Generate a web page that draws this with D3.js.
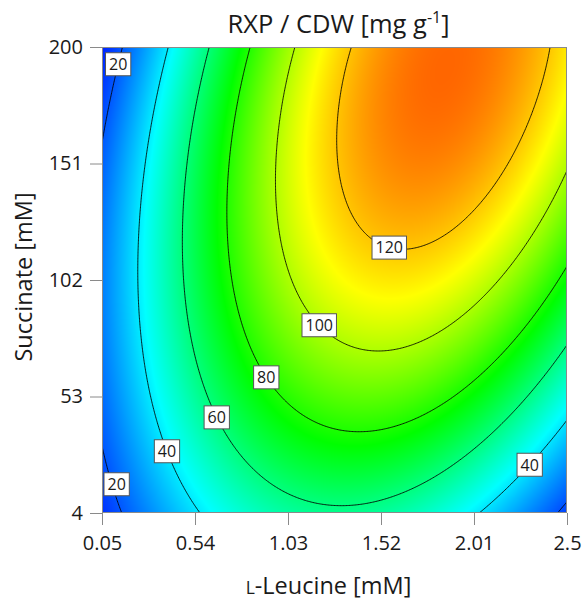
<!DOCTYPE html>
<html>
<head>
<meta charset="utf-8">
<script src="https://cdn.jsdelivr.net/npm/d3@7"></script>
<style>
  html, body { margin: 0; padding: 0; background: #fff; }
  svg { display: block; font-family: "Open Sans", "Noto Sans", sans-serif; }
</style>
</head>
<body>
<svg id="chart" width="582" height="600"></svg>
<script>
// Axis ticks (factor ranges follow from the first and last tick)
const leucineTicks = [0.05, 0.54, 1.03, 1.52, 2.01, 2.5];
const succinateTicks = [4, 53, 102, 151, 200];

// Quadratic response-surface model on the square-root scale,
// coded factors A = L-Leucine, B = Succinate (both -1 .. +1)
const modelTerms = ["Intercept", "A", "B", "AB", "A²", "B²"];
const modelCoefficients = [10.4675, 1.840, 1.564, 1.711, -3.580, -1.303];

// Contour levels of RXP / CDW
const contourLevels = [20, 40, 60, 80, 100, 120];

// Contour labels: level and the spot (L-Leucine mM, Succinate mM) where it sits
const labelLevels = [20, 20, 40, 60, 80, 100, 120, 40];
const labelLeucine = [0.12, 0.124, 0.392, 0.646, 0.901, 1.186, 1.558, 2.301];
const labelSuccinate = [192.9, 16.6, 30.0, 44.0, 60.5, 82.2, 114.1, 24.3];

// Colour ramp of the response
const colorValues = [12, 43, 76, 111, 136];
const colorStops = ["rgb(0,25,255)", "rgb(0,255,255)", "rgb(0,255,0)", "rgb(255,255,0)", "rgb(255,95,0)"];

// ---------------------------------------------------------------------------
const W = 582, H = 600;
const plot = { left: 102, right: 567, top: 47, bottom: 513 };
const plotW = plot.right - plot.left, plotH = plot.bottom - plot.top;

const [lMin, lMax] = d3.extent(leucineTicks);
const [sMin, sMax] = d3.extent(succinateTicks);

const x = d3.scaleLinear().domain([lMin, lMax]).range([plot.left, plot.right]);
const y = d3.scaleLinear().domain([sMin, sMax]).range([plot.bottom, plot.top]);
const color = d3.scaleLinear().domain(colorValues).range(colorStops).clamp(true);

function response(L, S) {
  const A = (L - (lMin + lMax) / 2) / ((lMax - lMin) / 2);
  const B = (S - (sMin + sMax) / 2) / ((sMax - sMin) / 2);
  const basis = [1, A, B, A * B, A * A, B * B];
  const root = d3.sum(basis, (t, i) => t * modelCoefficients[i]);
  return root * root;
}

const svg = d3.select("#chart");
const textColor = "#1a1a1a";
const axisColor = "#8a8a8a";
const fontStack = "\"Open Sans\", \"Noto Sans\", sans-serif";

// ---- colour field -------------------------------------------------------
const canvas = document.createElement("canvas");
canvas.width = plotW; canvas.height = plotH;
const ctx = canvas.getContext("2d");
const img = ctx.createImageData(plotW, plotH);
for (let j = 0; j < plotH; j++) {
  const S = y.invert(plot.top + j + 0.5);
  for (let i = 0; i < plotW; i++) {
    const L = x.invert(plot.left + i + 0.5);
    const c = d3.rgb(color(response(L, S)));
    const k = (j * plotW + i) * 4;
    img.data[k] = c.r; img.data[k + 1] = c.g; img.data[k + 2] = c.b; img.data[k + 3] = 255;
  }
}
ctx.putImageData(img, 0, 0);

svg.append("defs").append("clipPath").attr("id", "plot-clip")
  .append("rect").attr("x", plot.left).attr("y", plot.top)
  .attr("width", plotW).attr("height", plotH);

svg.append("image")
  .attr("x", plot.left).attr("y", plot.top)
  .attr("width", plotW).attr("height", plotH)
  .attr("preserveAspectRatio", "none")
  .attr("href", canvas.toDataURL());

// ---- contour lines ------------------------------------------------------
const step = 1.5, pad = 4;
const nx = Math.ceil(plotW / step) + 2 * pad + 1;
const ny = Math.ceil(plotH / step) + 2 * pad + 1;
const gx0 = plot.left - pad * step, gy0 = plot.top - pad * step;
const grid = new Float64Array(nx * ny);
for (let j = 0; j < ny; j++) {
  const S = y.invert(gy0 + j * step);
  for (let i = 0; i < nx; i++) grid[j * nx + i] = response(x.invert(gx0 + i * step), S);
}
const contours = d3.contours().size([nx, ny]).thresholds(contourLevels)(grid);
const toPixel = d3.geoTransform({
  point(cx, cy) { this.stream.point(gx0 + cx * step, gy0 + cy * step); }
});
const path = d3.geoPath(toPixel);

svg.append("g").attr("clip-path", "url(#plot-clip)")
  .selectAll("path").data(contours).join("path")
  .attr("d", path)
  .attr("fill", "none")
  .attr("stroke", "#000")
  .attr("stroke-opacity", 0.85)
  .attr("stroke-width", 1);

// ---- contour labels -----------------------------------------------------
const labelG = svg.append("g");
labelLevels.forEach((level, k) => {
  const hx = x(labelLeucine[k]), hy = y(labelSuccinate[k]);
  const geom = contours.find(c => c.value === level);
  let best = [hx, hy], bestD = Infinity;
  geom.coordinates.forEach(poly => poly.forEach(ring => ring.forEach(([cx, cy]) => {
    const px = gx0 + cx * step, py = gy0 + cy * step;
    if (px < plot.left || px > plot.right || py < plot.top || py > plot.bottom) return;
    const d = (px - hx) ** 2 + (py - hy) ** 2;
    if (d < bestD) { bestD = d; best = [px, py]; }
  })));
  const g = labelG.append("g");
  const t = g.append("text")
    .attr("text-anchor", "middle").attr("dy", "0.36em")
    .attr("font-size", 16).attr("fill", textColor)
    .text(level);
  const tw = t.node().getComputedTextLength();
  const bw = tw + 7, bh = 23;
  // keep the whole box inside the plot frame
  const cx = Math.max(plot.left + 2 + bw / 2, Math.min(plot.right - 2 - bw / 2, best[0]));
  const cy = Math.max(plot.top + 4 + bh / 2, Math.min(plot.bottom - 4 - bh / 2, best[1]));
  g.attr("transform", `translate(${cx},${cy})`);
  g.insert("rect", "text")
    .attr("x", -bw / 2).attr("y", -bh / 2)
    .attr("width", bw).attr("height", bh)
    .attr("fill", "#fff").attr("stroke", "#555").attr("stroke-width", 1);
});

// ---- frame and axes -----------------------------------------------------
svg.append("rect")
  .attr("x", plot.left + 0.5).attr("y", plot.top + 0.5)
  .attr("width", plotW - 1).attr("height", plotH - 1)
  .attr("fill", "none").attr("stroke", axisColor).attr("stroke-width", 1);

const xAxis = svg.append("g").attr("transform", `translate(0,${plot.bottom})`)
  .call(d3.axisBottom(x).tickValues(leucineTicks).tickSize(12).tickPadding(11)
    .tickFormat(d => String(d)));
const yAxis = svg.append("g").attr("transform", `translate(${plot.left},0)`)
  .call(d3.axisLeft(y).tickValues(succinateTicks).tickSize(12).tickPadding(7)
    .tickFormat(d => String(d)));
[xAxis, yAxis].forEach(a => {
  a.select(".domain").remove();
  a.selectAll(".tick line").attr("stroke", axisColor);
  a.selectAll(".tick text").attr("fill", textColor).attr("font-size", 20)
    .attr("font-family", fontStack);
});

// ---- titles -------------------------------------------------------------
const title = svg.append("text")
  .attr("x", (plot.left + plot.right) / 2 + 4).attr("y", 33)
  .attr("text-anchor", "middle").attr("font-size", 25.5).attr("fill", textColor);
title.append("tspan").text("RXP / CDW [mg g");
title.append("tspan").attr("font-size", 16).attr("dy", -10).text("-1");
title.append("tspan").attr("dy", 10).text("]");

const xTitle = svg.append("text")
  .attr("x", (plot.left + plot.right) / 2 - 6).attr("y", 594)
  .attr("text-anchor", "middle").attr("font-size", 23.5).attr("fill", textColor);
xTitle.append("tspan").attr("font-size", 17.5).text("L");
xTitle.append("tspan").text("-Leucine [mM]");

svg.append("text")
  .attr("transform", `translate(32,${(plot.top + plot.bottom) / 2 - 3}) rotate(-90)`)
  .attr("text-anchor", "middle").attr("font-size", 23.5).attr("fill", textColor)
  .text("Succinate [mM]");
</script>
</body>
</html>
